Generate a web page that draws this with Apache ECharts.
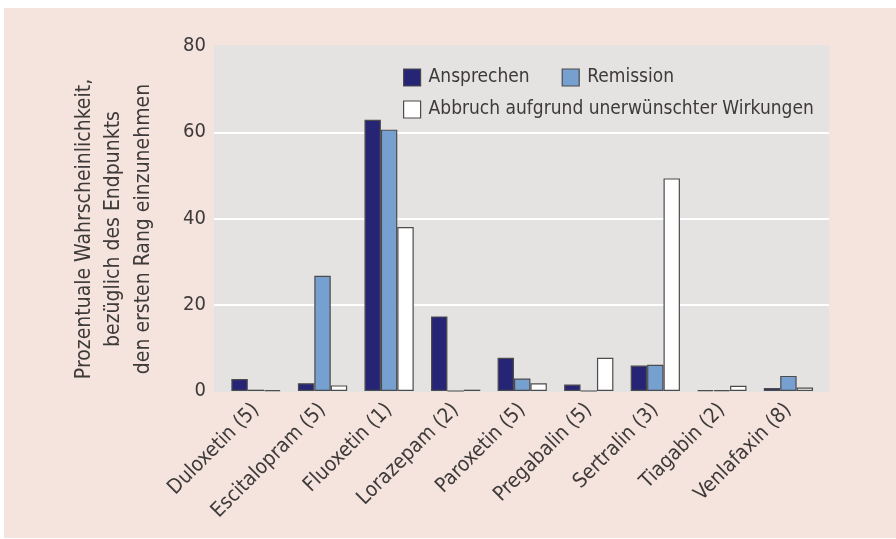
<!DOCTYPE html>
<html lang="de">
<head>
    <meta charset="UTF-8">
    <title>Rang-Wahrscheinlichkeit</title>
    <script src="https://cdn.jsdelivr.net/npm/echarts@6/dist/echarts.min.js"></script>
    <style>
        html, body { margin: 0; padding: 0; background: #fff; }
        #chart { width: 896px; height: 539px; }
    </style>
</head>
<body>
    <div id="chart"></div>
    <script>
        // data
        var drugs = ['Duloxetin (5)', 'Escitalopram (5)', 'Fluoxetin (1)', 'Lorazepam (2)', 'Paroxetin (5)',
                     'Pregabalin (5)', 'Sertralin (3)', 'Tiagabin (2)', 'Venlafaxin (8)'];
        var ansprechen = [2.8, 1.8, 62.9, 17.3, 7.7, 1.5, 5.9, 0.2, 0.7];
        var remission  = [0.3, 26.7, 60.6, 0, 2.9, 0, 6.1, 0.2, 3.5];
        var abbruch    = [0.2, 1.3, 38.0, 0.3, 1.8, 7.7, 49.3, 1.2, 0.8];
        var yTicks = [0, 20, 40, 60, 80];
        var seriesNames = ['Ansprechen', 'Remission', 'Abbruch aufgrund unerwünschter Wirkungen'];

        var font = "'DejaVu Sans Condensed', Roboto, sans-serif";
        var textCol = '#3d3a39';
        var edge = '#4d4b4b';

        var chart = echarts.init(document.getElementById('chart'));

        function barSeries(name, data, color) {
            return {
                name: name,
                type: 'bar',
                xAxisIndex: 1,
                yAxisIndex: 1,
                data: data,
                barGap: '0%',
                barCategoryGap: '26%',
                itemStyle: { color: color, borderColor: edge, borderWidth: 1.2 },
                emphasis: { disabled: true }
            };
        }

        var option = {
            backgroundColor: '#ffffff',
            animation: false,
            textStyle: { fontFamily: font },
            graphic: [
                { type: 'rect', z: -10, silent: true,
                  shape: { x: 4, y: 8, width: 892, height: 530 },
                  style: { fill: '#f5e3dd' } },
                { type: 'text', z: 10, silent: true,
                  x: 114, y: 229, rotation: Math.PI / 2,
                  style: {
                      text: 'Prozentuale Wahrscheinlichkeit,\nbezüglich des Endpunkts\nden ersten Rang einzunehmen',
                      font: '21px ' + font,
                      fill: textCol,
                      align: 'center',
                      verticalAlign: 'middle',
                      lineHeight: 29.5
                  } }
            ],
            legend: [
                {
                    data: seriesNames.slice(0, 2),
                    left: 398, top: 63,
                    itemWidth: 17, itemHeight: 17, itemGap: 32,
                    icon: 'rect',
                    itemStyle: { borderColor: edge, borderWidth: 1.2 },
                    textStyle: { fontSize: 19, color: textCol, fontFamily: font, padding: [0, 0, 0, 3] },
                    selectedMode: false
                },
                {
                    data: seriesNames.slice(2),
                    left: 398, top: 95,
                    itemWidth: 17, itemHeight: 17,
                    icon: 'rect',
                    itemStyle: { borderColor: edge, borderWidth: 1.2 },
                    textStyle: { fontSize: 19, color: textCol, fontFamily: font, padding: [0, 0, 0, 3] },
                    selectedMode: false
                }
            ],
            grid: [
                { left: 214, right: 67, top: 46, bottom: 148, show: true,
                  backgroundColor: '#e5e3e2', borderWidth: 0 },
                { left: 222.7, right: 74.3, top: 46, bottom: 148 }
            ],
            xAxis: [
                { type: 'category', gridIndex: 0, data: drugs, show: false },
                {
                    type: 'category', gridIndex: 1, data: drugs,
                    axisLine: { show: false },
                    axisTick: { show: false },
                    axisLabel: { rotate: 45, margin: 16, fontSize: 20.5, color: textCol, fontFamily: font, interval: 0 }
                }
            ],
            yAxis: [
                {
                    type: 'value', gridIndex: 0,
                    min: yTicks[0], max: yTicks[yTicks.length - 1], interval: 20,
                    axisLine: { show: false },
                    axisTick: { show: false },
                    axisLabel: { margin: 8, fontSize: 20, color: textCol, fontFamily: font },
                    splitLine: { lineStyle: { color: ['#e5e3e2', '#ffffff', '#ffffff', '#ffffff', '#e5e3e2'], width: 2 } }
                },
                { type: 'value', gridIndex: 1, min: 0, max: 80, show: false }
            ],
            series: [
                barSeries(seriesNames[0], ansprechen, '#262475'),
                barSeries(seriesNames[1], remission, '#76a0cf'),
                barSeries(seriesNames[2], abbruch, '#ffffff')
            ]
        };

        chart.setOption(option);
    </script>
</body>
</html>
